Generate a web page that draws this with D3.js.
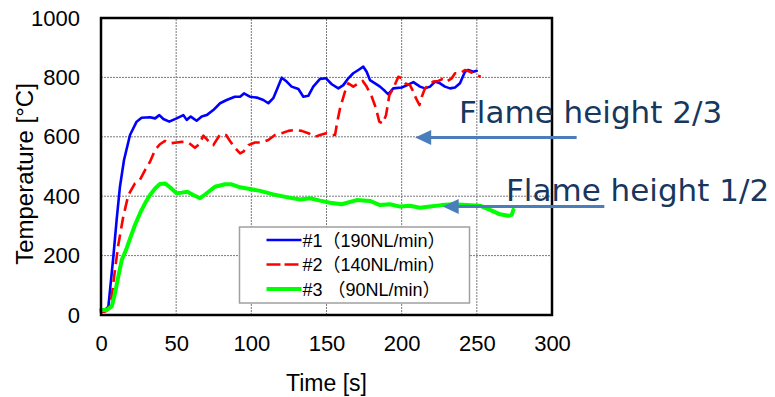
<!DOCTYPE html>
<html>
<head>
<meta charset="utf-8">
<script src="https://cdn.jsdelivr.net/npm/d3@7"></script>
<style>
  html, body { margin: 0; padding: 0; background: #fff; }
  svg { display: block; }
</style>
</head>
<body>
<svg id="chart" width="775" height="397"></svg>
<script>
// Axis ticks
const xTicks = [0, 50, 100, 150, 200, 250, 300];
const yTicks = [0, 200, 400, 600, 800, 1000];

// Series names (legend)
const seriesNames = ["#1\uFF08190NL/min\uFF09", "#2\uFF08140NL/min\uFF09", "#3 \uFF0890NL/min\uFF09"];

// #1 (190 NL/min): time [s] and temperature [°C]
const s1Time = [0,1.5,4.9,6,8.2,10.4,12.6,15.3,19.3,23.7,27,32.6,36,38.8,41.5,45.4,50.3,54.8,57,59.7,63.6,67,70.3,74.7,79.2,83.6,89,92.5,95.1,99,103.6,108,111.3,114.6,117.3,120.2,123.5,126.8,131.3,134.6,137.9,141.2,145.7,149.7,153.5,157.9,161.2,164.5,167.8,171.2,174.5,176.7,178.9,182.3,185.6,188.9,191.1,194.4,200,203.4,207.8,212.2,215.5,218.9,222.2,225.5,228.8,232.2,235.5,238.8,242.1,244.3,247.7,249.9];
const s1Temp = [10,11,28,84,196,320,432,522,606,651,664,666,662,673,660,651,662,673,657,668,654,668,673,690,713,724,735,735,746,735,732,724,713,730,763,799,786,769,761,735,738,769,795,797,777,763,774,797,814,825,836,819,791,780,769,754,743,763,766,773,784,769,763,769,786,780,769,763,766,780,819,825,819,822];

// #2 (140 NL/min)
const s2Time = [0,3,5,7.1,9.3,11.5,14.8,18.2,22.6,25.9,29.3,32.6,36,39.2,42.6,45.9,50.3,53.7,58.1,62.5,65.4,68.1,71.4,74.7,79.2,83.2,85.8,89.1,92.5,94.7,98,102.4,106.9,111.3,115.7,120.2,124.6,129,133.5,137.9,142.4,145.7,149.7,153.5,155.7,156.8,159,162.3,164.5,167.8,171.2,174.1,176.7,180.1,182.9,185.1,187.4,189.6,191.8,194.4,197.8,200,202.2,205.5,207.8,209.5,211.8,213.4,215.5,217.7,221,224.4,227.3,229.9,233.3,235.5,238.8,242.1,245.5,248.8,252.6];
const s2Temp = [10,12,20,62,152,236,331,404,443,455,488,516,556,575,586,578,581,583,581,563,575,604,586,572,608,606,586,563,544,550,572,581,581,589,606,612,620,623,620,612,600,606,612,606,606,640,696,752,780,769,780,788,769,735,696,651,645,673,740,763,802,797,780,774,752,730,707,735,763,773,786,788,795,786,797,814,814,825,819,810,802];

// #3 (90 NL/min)
const s3Time = [0,3.8,7.1,9.3,11.5,13.8,17.1,19.8,22.6,25.9,29.3,32.6,36,39.2,42.6,45.9,50.3,53.7,57.4,61.4,65.9,70.3,75.8,82.5,86.9,92.5,99,105.8,114.6,123.5,132.4,139,145.7,152.3,160.1,170.1,178.9,185.6,192.2,198.9,205.5,212.2,218.9,226.6,234.3,243.3,252.1,258.8,265.4,270.9,273.2,274.3];
const s3Temp = [17,17,28,73,129,185,225,264,303,342,376,404,426,441,443,430,410,412,415,404,393,410,432,440,440,430,424,418,406,397,389,393,385,378,373,387,384,370,373,365,368,361,365,370,373,370,368,354,339,334,337,354];

// Annotation texts and the points their arrows indicate [time, temperature]
const noteLabels = ["Flame height 2/3", "Flame height 1/2"];
const noteTips = [[209, 598], [227.3, 365]];
const noteTails = [[316.4, 598], [334.8, 365]];

const svg = d3.select("#chart");
const W = 775, H = 397;
const margin = { top: 18, right: 223, bottom: 82, left: 101 };
const x = d3.scaleLinear().domain([0, 300]).range([margin.left, W - margin.right]);
const y = d3.scaleLinear().domain([0, 1000]).range([H - margin.bottom, margin.top]);

const axisFont = "'Liberation Sans', Arial, sans-serif";

// Grid
const grid = svg.append("g").attr("stroke", "#7a7a7a").attr("stroke-width", 1).attr("stroke-dasharray", "2,1");
grid.selectAll("line.v").data(xTicks.slice(1, -1)).join("line")
  .attr("x1", d => x(d)).attr("x2", d => x(d))
  .attr("y1", y(0)).attr("y2", y(1000));
grid.selectAll("line.h").data(yTicks.slice(1, -1)).join("line")
  .attr("x1", x(0)).attr("x2", x(300))
  .attr("y1", d => y(d)).attr("y2", d => y(d));

// Axes (labels only; the frame is drawn separately)
const xAxis = svg.append("g")
  .attr("transform", `translate(0,${y(0)})`)
  .call(d3.axisBottom(x).tickValues(xTicks).tickFormat(d3.format("d")).tickSize(0).tickPadding(20));
const yAxis = svg.append("g")
  .attr("transform", `translate(${x(0)},0)`)
  .call(d3.axisLeft(y).tickValues(yTicks).tickFormat(d3.format("d")).tickSize(0).tickPadding(21));
[xAxis, yAxis].forEach(a => {
  a.select(".domain").remove();
  a.selectAll("text").attr("font-family", axisFont).attr("font-size", 22).attr("fill", "#000");
});

// Series lines
const line = d3.line().x(d => x(d[0])).y(d => y(d[1]));
const zip = (a, b) => a.map((t, i) => [t, b[i]]);
const series = [
  { pts: zip(s1Time, s1Temp), color: "#0000ff", width: 2.6, dash: null },
  { pts: zip(s2Time, s2Temp), color: "#ff0000", width: 2.6, dash: "12,6" },
  { pts: zip(s3Time, s3Temp), color: "#00ff00", width: 4, dash: null }
];
const plot = svg.append("g");
series.forEach(s => {
  plot.append("path")
    .attr("d", line(s.pts))
    .attr("fill", "none")
    .attr("stroke", s.color)
    .attr("stroke-width", s.width)
    .attr("stroke-linejoin", "round")
    .attr("stroke-linecap", s.dash ? "butt" : "round")
    .attr("stroke-dasharray", s.dash);
});

// Frame
svg.append("rect")
  .attr("x", x(0)).attr("y", y(1000))
  .attr("width", x(300) - x(0)).attr("height", y(0) - y(1000))
  .attr("fill", "none").attr("stroke", "#000").attr("stroke-width", 2.5);

// Legend
const legend = svg.append("g").attr("transform", "translate(239.5,227)");
legend.append("rect").attr("width", 230).attr("height", 76)
  .attr("fill", "#fff").attr("stroke", "#a0a0a0").attr("stroke-width", 1.5);
series.forEach((s, i) => {
  const yy = 13 + i * 24.5;
  legend.append("line")
    .attr("x1", 27).attr("x2", 62).attr("y1", yy).attr("y2", yy)
    .attr("stroke", s.color).attr("stroke-width", s.width)
    .attr("stroke-dasharray", s.dash ? "14,4" : null);
  legend.append("text")
    .attr("x", 63).attr("y", yy + 6.5)
    .attr("font-family", axisFont + ", 'Noto Sans CJK JP'")
    .attr("font-size", 18).attr("fill", "#000")
    .text(seriesNames[i]);
});

// Axis titles
svg.append("text")
  .attr("x", (x(0) + x(300)) / 2).attr("y", 391)
  .attr("text-anchor", "middle")
  .attr("font-family", axisFont).attr("font-size", 23).attr("fill", "#000")
  .text("Time [s]");
svg.append("text")
  .attr("transform", "translate(33,174) rotate(-90)")
  .attr("text-anchor", "middle")
  .attr("font-family", axisFont).attr("font-size", 24).attr("fill", "#000")
  .text("Temperature [\u00B0C]");

// Annotations: arrows pointing into the plot with their captions
const arrowColor = "#4a7ebb";
const headLen = 16, headHalf = 7.5;
const noteText = [[459, 123], [506, 201]];
noteLabels.forEach((label, i) => {
  const tx = x(noteTips[i][0]), ty = y(noteTips[i][1]);
  svg.append("line")
    .attr("x1", tx + headLen - 1).attr("y1", ty)
    .attr("x2", x(noteTails[i][0])).attr("y2", y(noteTails[i][1]))
    .attr("stroke", arrowColor).attr("stroke-width", 3);
  svg.append("path")
    .attr("d", `M${tx},${ty} L${tx + headLen},${ty - headHalf} L${tx + headLen},${ty + headHalf} Z`)
    .attr("fill", arrowColor);
  svg.append("text")
    .attr("x", noteText[i][0]).attr("y", noteText[i][1])
    .attr("font-family", "'DejaVu Sans', Verdana, sans-serif")
    .attr("font-size", 31).attr("fill", "#17375e")
    .text(label);
});
</script>
</body>
</html>
